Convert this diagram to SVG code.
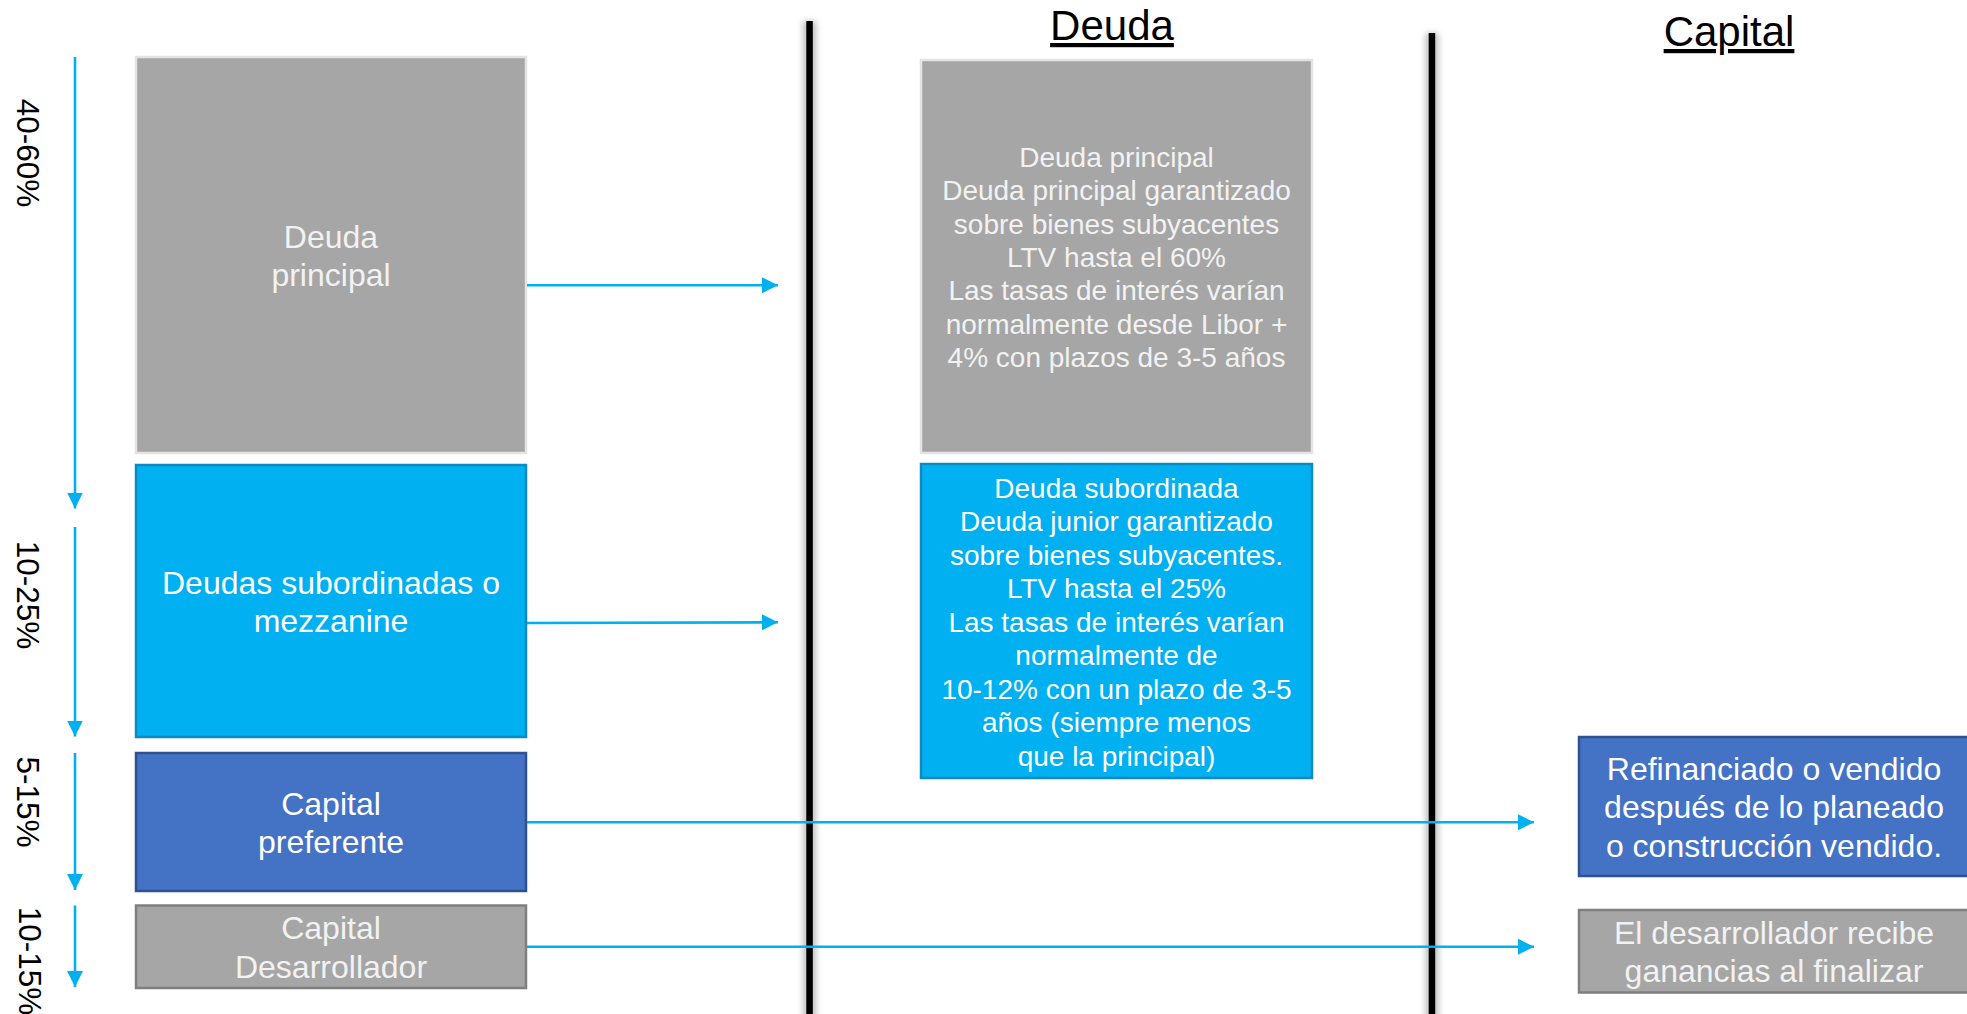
<svg xmlns="http://www.w3.org/2000/svg" width="1967" height="1014" viewBox="0 0 1967 1014">
  <style>
    text { font-family: "Liberation Sans", Arial, sans-serif; }
    .big { font-size: 32px; text-anchor: middle; }
    .mid { font-size: 28px; text-anchor: middle; }
    .pct { font-size: 31.5px; text-anchor: middle; fill: #000; }
    .hdr { font-size: 42px; text-anchor: middle; fill: #000; text-decoration: underline; }
    .w { fill: #ffffff; }
    .lw { fill: #f2f2f2; }
    .gray { fill: #a6a6a6; stroke: #e3e3e3; stroke-width: 2.5; }
    .gray2 { fill: #a6a6a6; stroke: #7f7f7f; stroke-width: 2.5; }
    .cyan { fill: #00b0f0; stroke: #0b8ac4; stroke-width: 2.5; }
    .blue { fill: #4472c4; stroke: #2f528f; stroke-width: 2.5; }
    .arr { stroke: #00b0f0; stroke-width: 2.6; fill: none; marker-end: url(#ah); }
  </style>
  <defs>
    <marker id="ah" markerUnits="userSpaceOnUse" markerWidth="16" markerHeight="16" refX="16" refY="8" orient="auto">
      <path d="M0,0 L16,8 L0,16 z" fill="#00b0f0"/>
    </marker>
    <filter id="blur" x="-2" y="-0.1" width="5" height="1.2">
      <feGaussianBlur stdDeviation="3"/>
    </filter>
  </defs>

  <rect width="1967" height="1014" fill="#ffffff"/>

  <!-- separators -->
  <g id="separators">
    <rect x="803" y="21" width="13" height="1000" fill="#000" opacity="0.25" filter="url(#blur)"/>
    <rect x="806.3" y="21" width="6.5" height="1000" fill="#000"/>
    <rect x="1425.5" y="33" width="13" height="990" fill="#000" opacity="0.25" filter="url(#blur)"/>
    <rect x="1428.7" y="33" width="6.5" height="990" fill="#000"/>
  </g>

  <!-- headers -->
  <g id="headers">
    <text class="hdr" x="1112" y="40">Deuda</text>
    <text class="hdr" x="1729" y="46">Capital</text>
  </g>

  <!-- percentage labels -->
  <g id="labels">
    <text class="pct" transform="translate(17,153) rotate(90)">40-60%</text>
    <text class="pct" transform="translate(17,595) rotate(90)">10-25%</text>
    <text class="pct" transform="translate(17,802) rotate(90)">5-15%</text>
    <text class="pct" transform="translate(18.5,961) rotate(90)">10-15%</text>
  </g>

  <!-- left nodes -->
  <g id="node-deuda-principal">
    <rect class="gray" x="136" y="57" width="390" height="396"/>
    <text class="big lw" x="331" y="247.5">Deuda</text>
    <text class="big lw" x="331" y="285.5">principal</text>
  </g>
  <g id="node-deudas-subordinadas">
    <rect class="cyan" x="136" y="465" width="390" height="272"/>
    <text class="big w" x="331" y="593.5">Deudas subordinadas o</text>
    <text class="big w" x="331" y="632">mezzanine</text>
  </g>
  <g id="node-capital-preferente">
    <rect class="blue" x="136" y="753" width="390" height="138"/>
    <text class="big w" x="331" y="814.5">Capital</text>
    <text class="big w" x="331" y="853">preferente</text>
  </g>
  <g id="node-capital-desarrollador">
    <rect class="gray2" x="136" y="905.5" width="390" height="82.5"/>
    <text class="big lw" x="331" y="939">Capital</text>
    <text class="big lw" x="331" y="977.5">Desarrollador</text>
  </g>

  <!-- middle nodes -->
  <g id="node-deuda-principal-detalle">
    <rect class="gray" x="921" y="60" width="391" height="393"/>
    <text class="mid lw" x="1116.5" y="166.7">Deuda principal</text>
    <text class="mid lw" x="1116.5" y="200.1">Deuda principal garantizado</text>
    <text class="mid lw" x="1116.5" y="233.5">sobre bienes subyacentes</text>
    <text class="mid lw" x="1116.5" y="266.9">LTV hasta el 60%</text>
    <text class="mid lw" x="1116.5" y="300.3">Las tasas de interés varían</text>
    <text class="mid lw" x="1116.5" y="333.7">normalmente desde Libor +</text>
    <text class="mid lw" x="1116.5" y="367.1">4% con plazos de 3-5 años</text>
  </g>
  <g id="node-deuda-subordinada-detalle">
    <rect class="cyan" x="921" y="464" width="391" height="314"/>
    <text class="mid w" x="1116.5" y="497.7">Deuda subordinada</text>
    <text class="mid w" x="1116.5" y="531.2">Deuda junior garantizado</text>
    <text class="mid w" x="1116.5" y="564.7">sobre bienes subyacentes.</text>
    <text class="mid w" x="1116.5" y="598.2">LTV hasta el 25%</text>
    <text class="mid w" x="1116.5" y="631.7">Las tasas de interés varían</text>
    <text class="mid w" x="1116.5" y="665.2">normalmente de</text>
    <text class="mid w" x="1116.5" y="698.7">10-12% con un plazo de 3-5</text>
    <text class="mid w" x="1116.5" y="732.2">años (siempre menos</text>
    <text class="mid w" x="1116.5" y="765.7">que la principal)</text>
  </g>

  <!-- right nodes -->
  <g id="node-refinanciado">
    <rect class="blue" x="1579" y="737" width="400" height="139"/>
    <text class="big w" x="1774" y="780">Refinanciado o vendido</text>
    <text class="big w" x="1774" y="818.4">después de lo planeado</text>
    <text class="big w" x="1774" y="856.8">o construcción vendido.</text>
  </g>
  <g id="node-desarrollador-recibe">
    <rect class="gray2" x="1579" y="910" width="400" height="82.5"/>
    <text class="big lw" x="1774" y="943.5">El desarrollador recibe</text>
    <text class="big lw" x="1774" y="981.5">ganancias al finalizar</text>
  </g>

  <!-- connectors -->
  <g id="connectors">
    <line class="arr" x1="75" y1="57" x2="75" y2="508.5"/>
    <line class="arr" x1="75" y1="527" x2="75" y2="736.5"/>
    <line class="arr" x1="75" y1="753" x2="75" y2="890"/>
    <line class="arr" x1="75" y1="905.5" x2="75" y2="987"/>
    <line class="arr" x1="527" y1="285.3" x2="778" y2="285.3"/>
    <line class="arr" x1="527" y1="623" x2="778" y2="622.3"/>
    <line class="arr" x1="527" y1="822.3" x2="1534" y2="822.3"/>
    <line class="arr" x1="527" y1="946.7" x2="1534" y2="946.7"/>
  </g>
</svg>
